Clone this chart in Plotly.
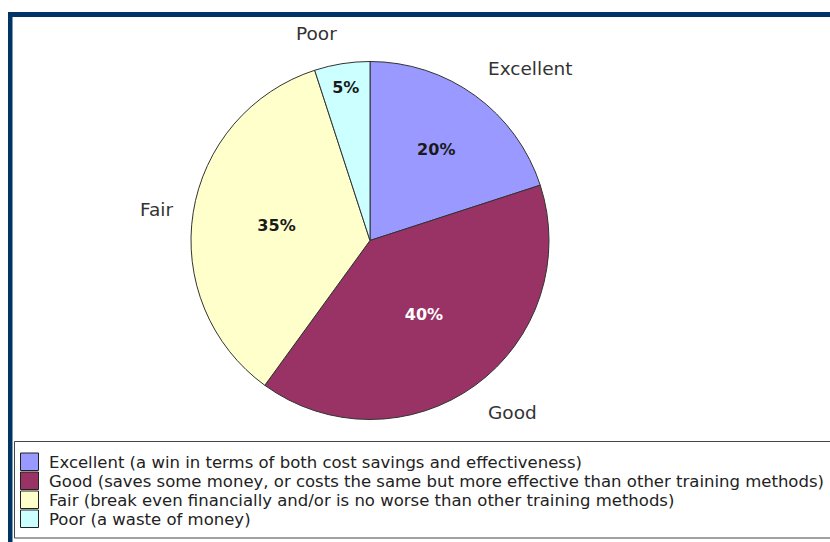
import math
import plotly.graph_objects as go

# Survey results: perceived value of the training
categories = ["Excellent", "Good", "Fair", "Poor"]
descriptions = [
    "Excellent (a win in terms of both cost savings and effectiveness)",
    "Good (saves some money, or costs the same but more effective than other training methods)",
    "Fair (break even financially and/or is no worse than other training methods)",
    "Poor (a waste of money)",
]
shares = [20, 40, 35, 5]
colors = ["#9999FF", "#993366", "#FFFFCC", "#CCFFFF"]
pct_colors = ["#1a1a1a", "#ffffff", "#1a1a1a", "#1a1a1a"]

W, H = 830, 542
CX, CY, R = 370, 240.5, 179  # pie centre and radius in pixels


def px(x):
    return x / W


def py(y):
    return 1 - y / H


fig = go.Figure()
fig.add_trace(go.Pie(
    labels=descriptions,
    values=shares,
    sort=False,
    direction="clockwise",
    rotation=0,
    marker=dict(colors=colors, line=dict(color="#333333", width=1)),
    textinfo="percent",
    textposition="inside",
    insidetextorientation="horizontal",
    textfont=dict(family="DejaVu Sans", size=16, color=pct_colors, weight="bold"),
    domain=dict(x=[px(CX - R), px(CX + R)], y=[py(CY + R), py(CY - R)]),
    showlegend=False,
    hoverinfo="label+percent",
))

shapes = []
annotations = []

# Category names outside the pie, placed along each slice's mid-angle
total = sum(shares)
start = 0.0
gap = 18
for name, v in zip(categories, shares):
    mid = (start + v / 2) / total * 2 * math.pi
    start += v
    ux, uy = math.sin(mid), -math.cos(mid)
    x = CX + (R + gap) * ux
    y = CY + (R + gap) * uy
    xa = "left" if ux > 0.1 else ("right" if ux < -0.1 else "center")
    ya = "bottom" if uy < -0.3 else ("top" if uy > 0.3 else "middle")
    annotations.append(dict(
        x=px(x), y=py(y), xref="paper", yref="paper",
        text=name, showarrow=False, xanchor=xa, yanchor=ya,
        font=dict(family="DejaVu Sans", size=18.5, color="#333333"),
    ))

# Dark frame along the top and left edges
frame = "#003366"
shapes.append(dict(type="rect", xref="paper", yref="paper",
                   x0=px(8), x1=px(W + 2), y0=py(17), y1=py(12),
                   fillcolor=frame, line=dict(width=0)))
shapes.append(dict(type="rect", xref="paper", yref="paper",
                   x0=px(8), x1=px(12.5), y0=py(H + 2), y1=py(12),
                   fillcolor=frame, line=dict(width=0)))

# Legend box
shapes.append(dict(type="rect", xref="paper", yref="paper",
                   x0=px(14.5), x1=px(W + 5), y0=py(538), y1=py(441.5),
                   fillcolor="rgba(0,0,0,0)", line=dict(color="#444444", width=1)))

row_top, row_h = 452.5, 19
for i, (desc, col) in enumerate(zip(descriptions, colors)):
    y0 = row_top + i * row_h
    shapes.append(dict(type="rect", xref="paper", yref="paper",
                       x0=px(20.5), x1=px(38.5), y0=py(y0 + 18), y1=py(y0 + 0.5),
                       fillcolor=col, line=dict(color="#222222", width=1)))
    annotations.append(dict(
        x=px(46.5), y=py(y0 + 9.5), xref="paper", yref="paper",
        text=desc, showarrow=False, xanchor="left", yanchor="middle",
        font=dict(family="DejaVu Sans", size=16.5, color="#222222"),
    ))

fig.update_layout(
    width=W, height=H,
    margin=dict(l=0, r=0, t=0, b=0),
    paper_bgcolor="white",
    plot_bgcolor="white",
    shapes=shapes,
    annotations=annotations,
)

fig.write_html("out.html")
